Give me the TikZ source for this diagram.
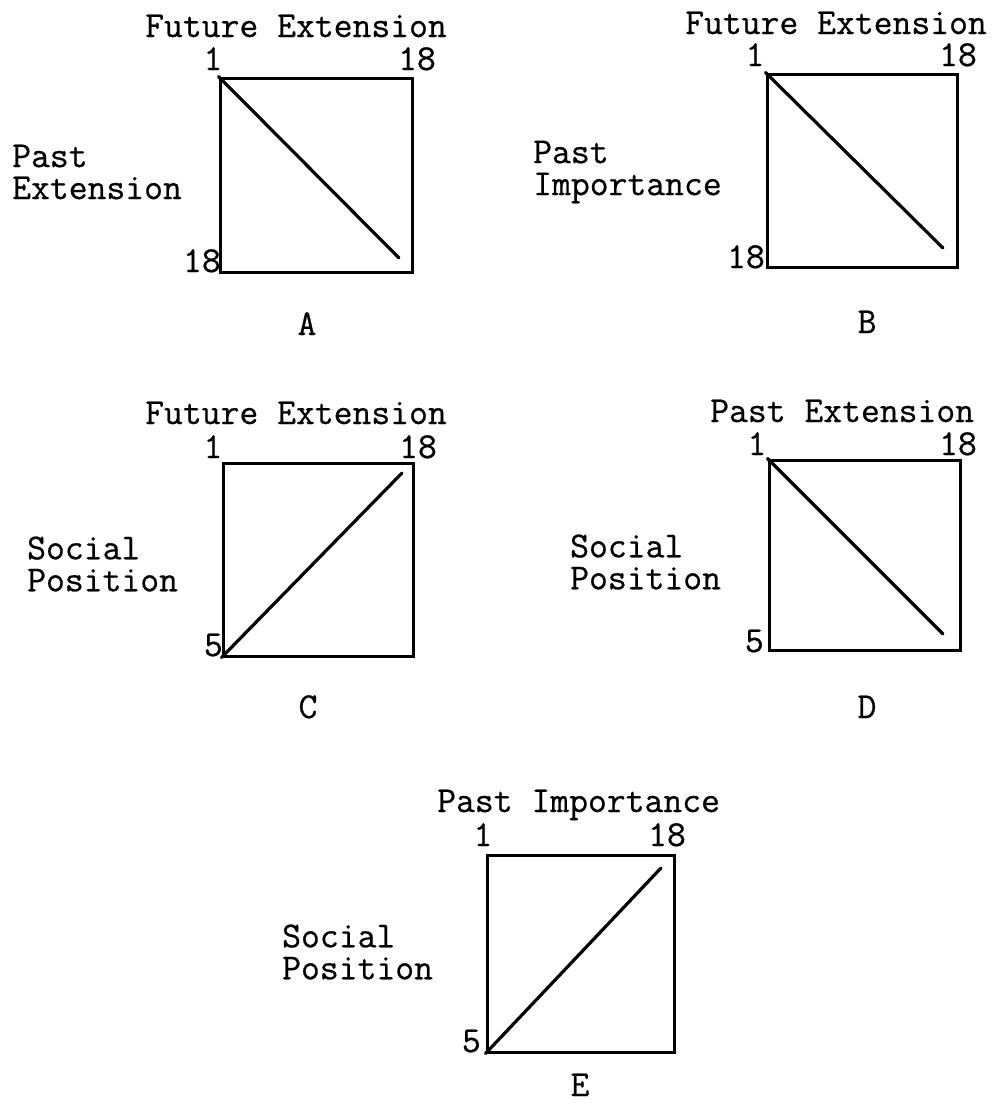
\documentclass[tikz,border=0pt]{standalone}
\usepackage{fontspec}
\setmonofont{Latin Modern Mono}[FakeBold=0.6]

\begin{document}
\begin{tikzpicture}[
    x=1pt, y=-1pt,
    panel/.style={rectangle, draw, line width=3pt, inner sep=0pt},
    trend/.style={line width=3.2pt, line cap=round},
    lbl/.style={font=\ttfamily\fontsize{36.6}{32}\selectfont, inner sep=0pt},
    axis/.style={lbl, anchor=base west},
    side/.style={lbl, align=left, anchor=west},
    tick/.style={lbl, anchor=base},
    corner/.style={lbl, anchor=base east}
]
  \useasboundingbox (0,0) rectangle (999,1104);

  % A
  \node[panel, minimum width=192pt, minimum height=194pt] (boxA) at (316,175) {};
  \node[axis] (titleA) at (145,37) {Future Extension};
  \node[tick] (loA) at (213,70) {1};
  \node[tick] (hiA) at (417,70) {18};
  \node[side] (sideA) at (12,172) {Past\\Extension};
  \node[corner] (endlabA) at (221,272) {18};
  \node[tick] (nameA) at (307,335) {A};
  \coordinate (endA) at (399,258);
  \draw[trend] (boxA.north west) -- (endA);

  % B
  \node[panel, minimum width=190pt, minimum height=193pt] (boxB) at (862,170.5) {};
  \node[axis] (titleB) at (685,34) {Future Extension};
  \node[tick] (loB) at (755,66) {1};
  \node[tick] (hiB) at (958,66) {18};
  \node[side] (sideB) at (533,172) {Past\\Importance};
  \node[corner] (endlabB) at (765,268) {18};
  \node[tick] (nameB) at (867,333) {B};
  \coordinate (endB) at (943,248);
  \draw[trend] (boxB.north west) -- (endB);

  % C
  \node[panel, minimum width=190pt, minimum height=193pt] (boxC) at (318,559.5) {};
  \node[axis] (titleC) at (145,424) {Future Extension};
  \node[tick] (loC) at (213,458) {1};
  \node[tick] (hiC) at (418,458) {18};
  \node[side] (sideC) at (27,564) {Social\\Position};
  \node[corner] (endlabC) at (223,656) {5};
  \node[tick] (nameC) at (308,718) {C};
  \coordinate (endC) at (402,473);
  \draw[trend] (boxC.south west) -- (endC);

  % D
  \node[panel, minimum width=191pt, minimum height=190pt] (boxD) at (864.5,555) {};
  \node[axis] (titleD) at (710,422) {Past Extension};
  \node[tick] (loD) at (757,455) {1};
  \node[tick] (hiD) at (958,455) {18};
  \node[side] (sideD) at (570,562) {Social\\Position};
  \node[corner] (endlabD) at (764,652) {5};
  \node[tick] (nameD) at (867,718) {D};
  \coordinate (endD) at (943,634);
  \draw[trend] (boxD.north west) -- (endD);

  % E
  \node[panel, minimum width=187pt, minimum height=197pt] (boxE) at (580.5,953.5) {};
  \node[axis] (titleE) at (437,812) {Past Importance};
  \node[tick] (loE) at (483,846) {1};
  \node[tick] (hiE) at (667,846) {18};
  \node[side] (sideE) at (282,952) {Social\\Position};
  \node[corner] (endlabE) at (481,1052) {5};
  \node[tick] (nameE) at (580,1096) {E};
  \coordinate (endE) at (661,868);
  \draw[trend] (boxE.south west) -- (endE);
\end{tikzpicture}
\end{document}
